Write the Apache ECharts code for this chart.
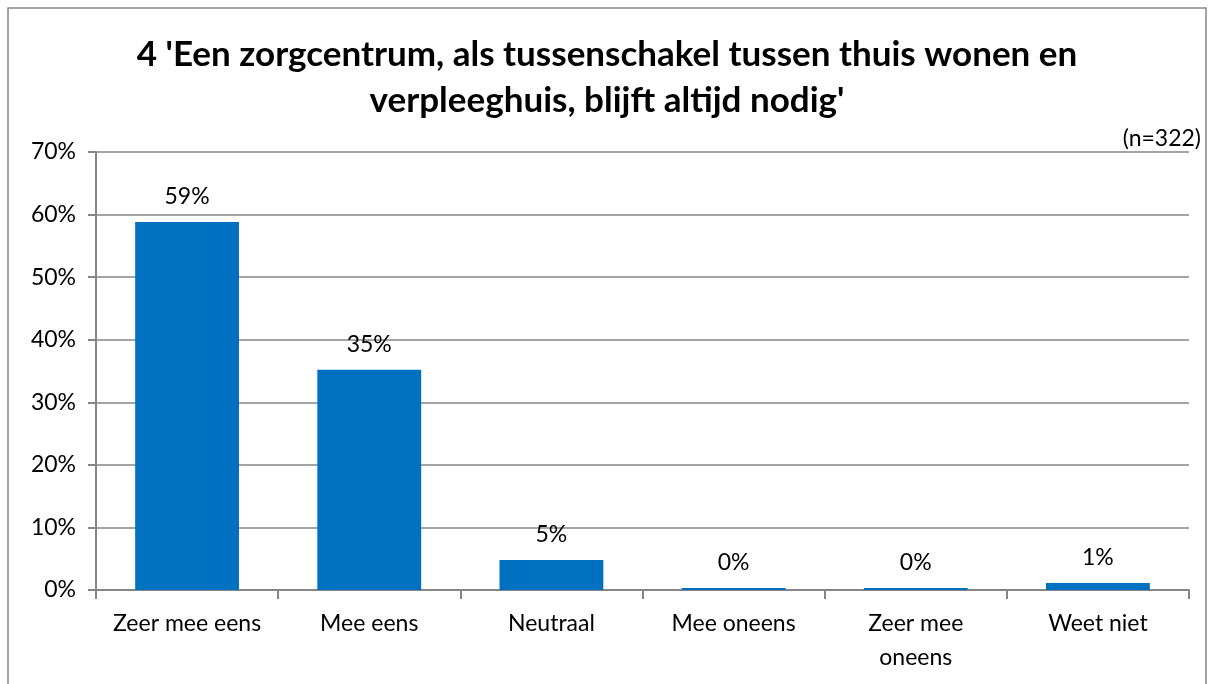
<!DOCTYPE html>
<html>
<head>
<meta charset="utf-8">
<script src="https://cdn.jsdelivr.net/npm/echarts@6/dist/echarts.min.js"></script>
<style>
  html, body { margin: 0; padding: 0; background: #fff; }
  #main { width: 1214px; height: 684px; }
</style>
</head>
<body>
<div id="main"></div>
<script>
// categorieën en percentages
var categories = ['Zeer mee eens', 'Mee eens', 'Neutraal', 'Mee oneens', 'Zeer mee\noneens', 'Weet niet'];
var values = [58.8, 35.2, 4.8, 0.3, 0.3, 1.1];
var yTicks = [0, 10, 20, 30, 40, 50, 60, 70];

var font = 'Lato, "Open Sans", sans-serif';
var myChart = echarts.init(document.getElementById('main'));

var option = {
    animation: false,
    backgroundColor: '#fff',
    title: {
        text: "4 'Een zorgcentrum, als tussenschakel tussen thuis wonen en\nverpleeghuis, blijft altijd nodig'",
        left: 'center',
        top: 27,
        textStyle: {
            fontFamily: font,
            fontSize: 35,
            fontWeight: 'bold',
            color: '#000',
            lineHeight: 46
        }
    },
    graphic: [
        {
            type: 'rect',
            shape: {x: 8, y: 8, width: 1198, height: 700},
            style: {fill: 'none', stroke: '#868686', lineWidth: 1.5},
            silent: true
        },
        {
            type: 'text',
            right: 13,
            top: 127,
            style: {text: '(n=322)', font: '23px ' + font, fill: '#000'}
        }
    ],
    grid: {
        left: 96,
        right: 25,
        top: 152,
        bottom: 94,
        containLabel: false
    },
    xAxis: {
        type: 'category',
        data: categories,
        axisLine: {lineStyle: {color: '#868686', width: 2}},
        axisTick: {show: true, length: 9, lineStyle: {color: '#868686', width: 2}},
        axisLabel: {
            fontFamily: font,
            fontSize: 23,
            color: '#000',
            margin: 17,
            lineHeight: 34,
            interval: 0
        }
    },
    yAxis: {
        type: 'value',
        min: yTicks[0],
        max: yTicks[yTicks.length - 1],
        interval: 10,
        axisLine: {show: true, lineStyle: {color: '#868686', width: 2}},
        axisTick: {show: true, length: 8, lineStyle: {color: '#868686', width: 2}},
        splitLine: {lineStyle: {color: '#868686', width: 1.5}},
        axisLabel: {
            fontFamily: font,
            fontSize: 23,
            color: '#000',
            margin: 20,
            formatter: '{value}%'
        }
    },
    series: [
        {
            type: 'bar',
            data: values,
            barWidth: '57%',
            itemStyle: {color: '#0070C0'},
            label: {
                show: true,
                position: 'top',
                distance: 14,
                fontFamily: font,
                fontSize: 23,
                color: '#000',
                formatter: function (p) {
                    return Math.round(p.value) + '%';
                }
            }
        }
    ]
};
myChart.setOption(option);
</script>
</body>
</html>
